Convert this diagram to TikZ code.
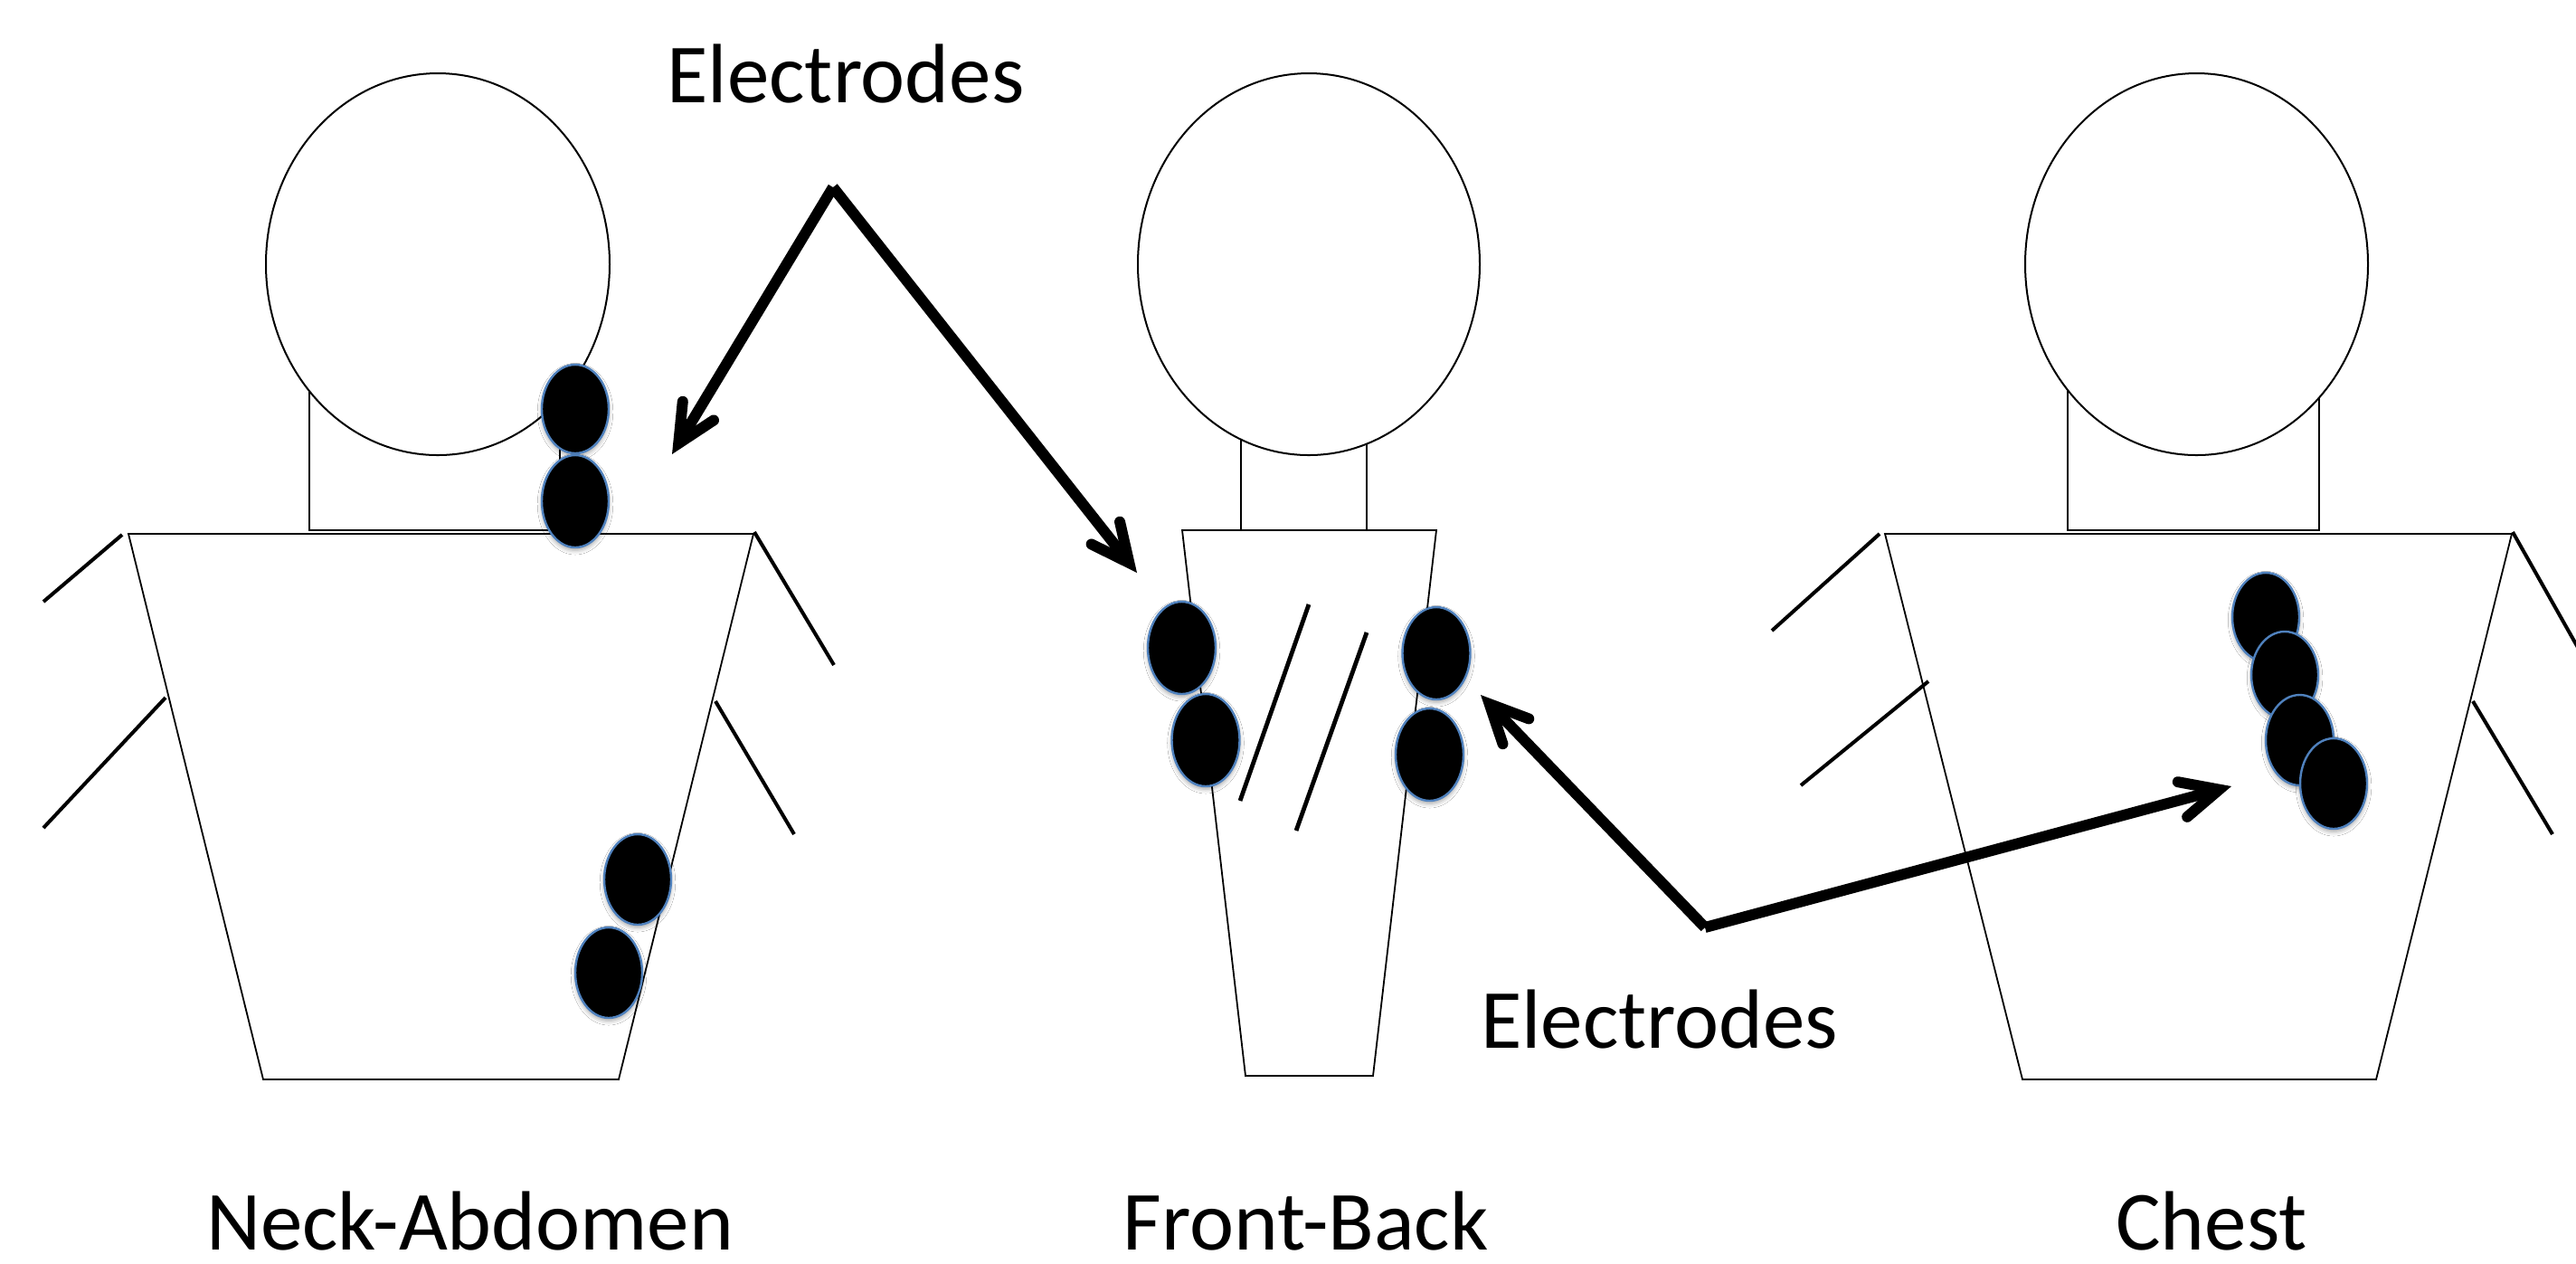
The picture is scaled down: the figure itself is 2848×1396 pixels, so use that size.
\documentclass[tikz,border=0pt]{standalone}
\usepackage{fontspec}
\setmainfont{Carlito}
\usetikzlibrary{arrows.meta,shadows.blur}
\definecolor{elblue}{RGB}{79,129,189}
\begin{document}
\begin{tikzpicture}[x=0.25pt,y=-0.25pt,
  outline/.style={line width=0.45pt, line join=miter},
  limb/.style={line width=1pt},
  mark line/.style={line width=1.2pt},
  headshape/.style={draw, fill=white, line width=0.5pt},
  electrode/.style={fill=black, draw=elblue, line width=0.6pt,
    blur shadow={shadow xshift=0pt, shadow yshift=-0.8pt, shadow blur radius=1.2pt, shadow opacity=35}},
  pointer/.style={line width=3pt, line cap=butt,
    -{Straight Barb[length=10.5pt,width=10pt,line cap=round]}},
  caption/.style={font=\fontsize{23.25pt}{28pt}\selectfont, anchor=base, inner sep=0pt, text depth=0pt}]
\clip (0,0) rectangle (2848,1396);
\fill[white] (0,0) rectangle (2848,1396);

% ---- Neck-Abdomen figure ----
\draw[outline] (342,400) rectangle (619,586);
\draw[outline] (142,590) -- (833,590) -- (684,1193) -- (291,1193) -- cycle;
\draw[limb] (135,591) -- (48,665);
\draw[limb] (183,771) -- (48,915);
\draw[limb] (834,588) -- (922,735);
\draw[limb] (791,775) -- (878,922);
\draw[headshape] (484,292) ellipse [x radius=190, y radius=211];
\draw[electrode] (636,452) ellipse [x radius=37, y radius=49];
\draw[electrode] (636,554) ellipse [x radius=37, y radius=51];
\draw[electrode] (705,972) ellipse [x radius=37, y radius=50];
\draw[electrode] (673,1075) ellipse [x radius=37, y radius=50];

% ---- Front-Back figure ----
\draw[outline] (1372,400) rectangle (1511,586);
\draw[outline] (1307,586) -- (1588,586) -- (1518,1189) -- (1377,1189) -- cycle;
\draw[headshape] (1447,292) ellipse [x radius=189, y radius=211];
\draw[mark line] (1447,668) -- (1371,885);
\draw[mark line] (1511,699) -- (1433,918);
\draw[electrode] (1306.5,716) ellipse [x radius=37.5, y radius=51];
\draw[electrode] (1333,818) ellipse [x radius=37.5, y radius=51];
\draw[electrode] (1588,722) ellipse [x radius=37.5, y radius=51];
\draw[electrode] (1580.5,834) ellipse [x radius=37.5, y radius=51];

% ---- Chest figure ----
\draw[outline] (2286,400) rectangle (2564,586);
\draw[outline] (2084,590) -- (2777,590) -- (2627,1193) -- (2236,1193) -- cycle;
\draw[limb] (2078,590) -- (1959,697);
\draw[limb] (2132,753) -- (1991,868);
\draw[limb] (2778,588) -- (2870,751);
\draw[limb] (2734,775) -- (2822,922);
\draw[headshape] (2428.5,292) ellipse [x radius=189.5, y radius=211];
\draw[electrode] (2505,682) ellipse [x radius=37, y radius=49];
\draw[electrode] (2526,746) ellipse [x radius=37, y radius=48];
\draw[electrode] (2542.5,818) ellipse [x radius=37.5, y radius=50];
\draw[electrode] (2580,866) ellipse [x radius=37, y radius=50];

% ---- Labels ----
\node[caption] (elecTop) at (935,113) {Electrodes};
\node[caption] (elecBot) at (1834.5,1158) {Electrodes};
\node[caption] (capNeck) at (519.5,1381) {Neck-Abdomen};
\node[caption] (capFront) at (1443.5,1381) {Front-Back};
\node[caption] (capChest) at (2445,1381) {Chest};

% ---- Pointers ----
\coordinate (apexTop) at (921,207);
\coordinate (tipNeck) at (743,502);
\coordinate (tipFront) at (1257,633);
\coordinate (apexBot) at (1885,1025);
\coordinate (tipSide) at (1637,768);
\coordinate (tipChest) at (2467,869);
\draw[pointer] (apexTop) -- (tipNeck);
\draw[pointer] (apexTop) -- (tipFront);
\draw[pointer] (apexBot) -- (tipSide);
\draw[pointer] (apexBot) -- (tipChest);
\end{tikzpicture}
\end{document}
